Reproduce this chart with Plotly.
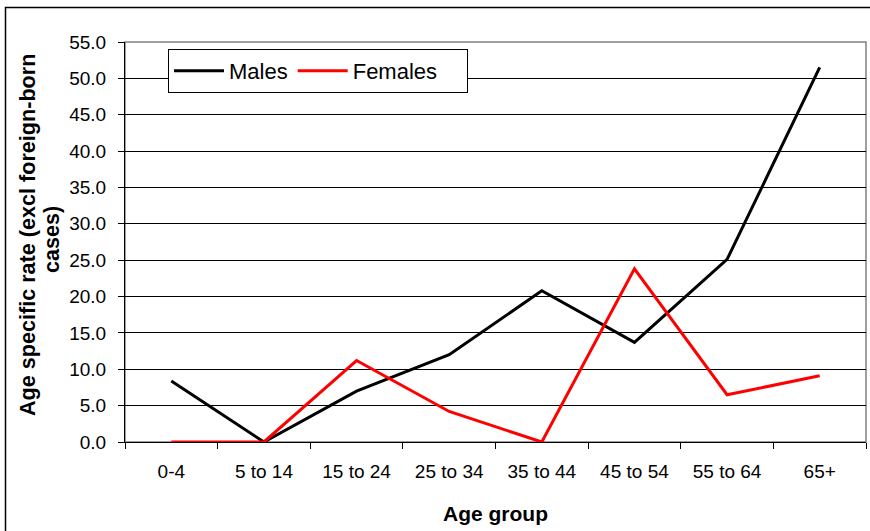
import plotly.graph_objects as go

age_groups = ["0-4", "5 to 14", "15 to 24", "25 to 34", "35 to 44", "45 to 54", "55 to 64", "65+"]
males = [8.4, 0.0, 7.0, 12.0, 20.8, 13.7, 25.1, 51.5]
females = [0.0, 0.0, 11.2, 4.2, 0.0, 23.8, 6.5, 9.1]
y_ticks = [0, 5, 10, 15, 20, 25, 30, 35, 40, 45, 50, 55]
y_ticklabels = ["%.1f" % v for v in y_ticks]
y_title_lines = ["Age specific rate (excl foreign-born", "cases)"]

FONT = "Arial, Liberation Sans, sans-serif"

fig = go.Figure()
fig.add_trace(go.Scatter(x=age_groups, y=males, mode="lines", name="Males",
                         line=dict(color="#000000", width=3)))
fig.add_trace(go.Scatter(x=age_groups, y=females, mode="lines", name="Females\u00a0\u00a0\u00a0\u00a0",
                         line=dict(color="#FF0000", width=3)))

L, R, T, B = 125, 4, 42, 89
W, H = 870, 531
pw, ph = W - L - R, H - T - B


def px_x(x):
    return (x - L) / pw


def px_y(y):
    return (H - B - y) / ph


annotations = [
    dict(text="<b>%s</b>" % y_title_lines[0], xref="paper", yref="paper",
         x=px_x(27), y=px_y(235), xanchor="center", yanchor="middle",
         textangle=-90, showarrow=False, font=dict(family=FONT, size=21.6, color="black")),
    dict(text="<b>%s</b>" % y_title_lines[1], xref="paper", yref="paper",
         x=px_x(51), y=px_y(240), xanchor="center", yanchor="middle",
         textangle=-90, showarrow=False, font=dict(family=FONT, size=21.6, color="black")),
]

fig.update_layout(
    width=W, height=H,
    margin=dict(l=L, r=R, t=T, b=B, autoexpand=False),
    paper_bgcolor="white", plot_bgcolor="white",
    font=dict(family=FONT, size=19, color="black"),
    showlegend=True,
    legend=dict(
        orientation="h", x=px_x(168), y=px_y(49),
        xanchor="left", yanchor="top",
        bgcolor="white", bordercolor="black", borderwidth=1,
        font=dict(family=FONT, size=22, color="black"),
        itemwidth=50, tracegroupgap=0,
    ),
    xaxis=dict(
        type="category", categoryorder="array", categoryarray=age_groups,
        range=[-0.5, len(age_groups) - 0.5],
        showline=True, linecolor="black", linewidth=1,
        ticks="outside", ticklen=6, tickcolor="black", tickson="boundaries",
        ticklabelstandoff=12,
        showgrid=False, zeroline=False,
        title=dict(text="<b>Age group</b>", font=dict(family=FONT, size=21), standoff=25),
        automargin=False,
    ),
    yaxis=dict(
        range=[0, 55], tickvals=y_ticks, ticktext=y_ticklabels,
        showline=True, linecolor="black", linewidth=1,
        ticks="outside", ticklen=6, tickcolor="black",
        ticklabelstandoff=8,
        showgrid=True, gridcolor="black", gridwidth=1, zeroline=False,
        automargin=False,
    ),
    annotations=annotations,
    shapes=[
        dict(type="rect", xref="paper", yref="paper", x0=0, x1=1, y0=0, y1=1,
             line=dict(color="#808080", width=1.5), layer="below"),
        dict(type="rect", xref="paper", yref="paper",
             x0=px_x(5.5), x1=px_x(875),
             y0=px_y(540), y1=px_y(7.5),
             line=dict(color="black", width=1.5), layer="below"),
    ],
)

fig.write_html("out.html", config={"displayModeBar": False},
               post_script="document.body.style.margin='0';document.body.style.padding='0';")
